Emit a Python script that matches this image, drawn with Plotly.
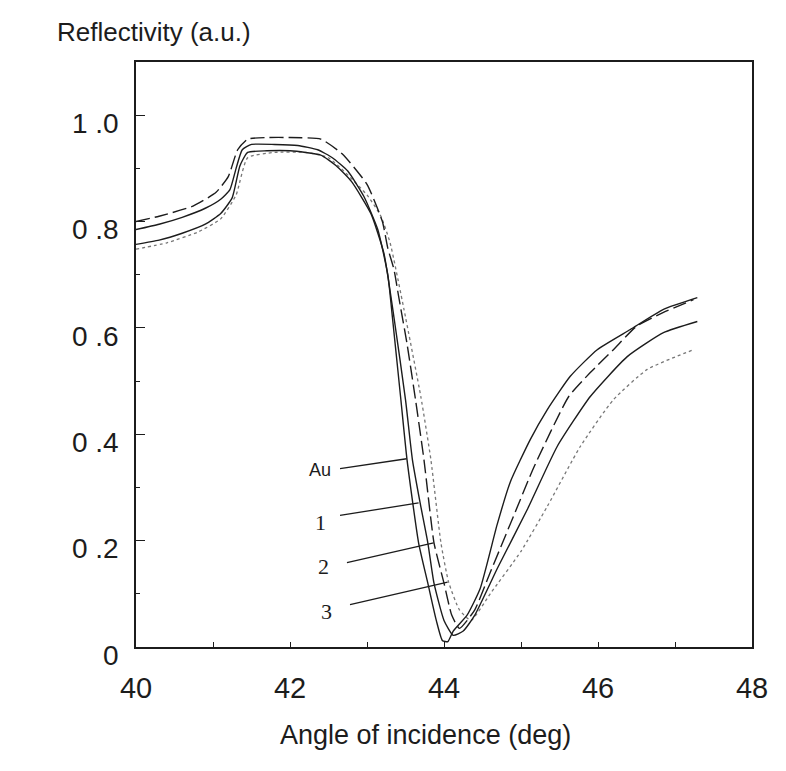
import plotly.graph_objects as go

# ---- data ----
au_x = [40.0, 40.3, 40.6, 40.9, 41.1, 41.22, 41.3, 41.38, 41.5, 41.8, 42.1, 42.36, 42.55, 42.75,
        42.96, 43.14, 43.27, 43.33, 43.44, 43.52, 43.67, 43.79, 43.9, 43.98, 44.05, 44.12, 44.3,
        44.47, 44.69, 44.86, 45.12, 45.34, 45.64, 45.99, 46.42, 46.85, 47.29]
au_y = [0.785, 0.795, 0.808, 0.825, 0.842, 0.86, 0.90, 0.935, 0.945, 0.945, 0.943, 0.935, 0.92,
        0.895, 0.847, 0.785, 0.70, 0.62, 0.465, 0.352, 0.196, 0.12, 0.05, 0.012, 0.01, 0.03, 0.06,
        0.11, 0.23, 0.31, 0.39, 0.446, 0.509, 0.559, 0.597, 0.635, 0.657]

s1_x = [40.0, 40.3, 40.6, 40.9, 41.1, 41.25, 41.35, 41.45, 41.7, 42.0, 42.4, 42.6, 42.8, 43.05,
        43.22, 43.35, 43.5, 43.59, 43.69, 43.79, 43.87, 44.0, 44.12, 44.25, 44.4, 44.7, 45.08,
        45.47, 45.9, 46.38, 46.85, 47.29]
s1_y = [0.757, 0.765, 0.778, 0.795, 0.815, 0.845, 0.905, 0.93, 0.933, 0.933, 0.925, 0.905, 0.875,
        0.815, 0.74, 0.62, 0.465, 0.352, 0.271, 0.196, 0.12, 0.05, 0.022, 0.03, 0.06, 0.15, 0.258,
        0.377, 0.471, 0.546, 0.591, 0.612]

s2_x = [40.0, 40.3, 40.74, 41.04, 41.2, 41.32, 41.45, 41.7, 42.0, 42.4, 42.68, 43.0, 43.2, 43.27,
        43.35, 43.41, 43.52, 43.63, 43.74, 43.87, 44.0, 44.1, 44.2, 44.4, 44.6, 44.9, 45.17, 45.62,
        45.9, 46.2, 46.5, 46.85, 47.24]
s2_y = [0.80, 0.81, 0.829, 0.855, 0.885, 0.935, 0.955, 0.958, 0.958, 0.955, 0.927, 0.87, 0.80,
        0.75, 0.71, 0.66, 0.57, 0.465, 0.352, 0.196, 0.12, 0.06, 0.035, 0.07, 0.14, 0.245, 0.339,
        0.471, 0.516, 0.559, 0.603, 0.629, 0.653]

s3_x = [40.0, 40.4, 40.8, 41.1, 41.3, 41.45, 41.8, 42.2, 42.5, 43.0, 43.18, 43.3, 43.48, 43.7,
        43.83, 43.96, 44.06, 44.2, 44.35, 44.6, 45.0, 45.34, 45.77, 46.2, 46.64, 47.24]
s3_y = [0.748, 0.76, 0.78, 0.805, 0.85, 0.92, 0.93, 0.93, 0.92, 0.85, 0.81, 0.76, 0.635, 0.47,
        0.352, 0.196, 0.122, 0.07, 0.05, 0.1, 0.18, 0.264, 0.377, 0.465, 0.522, 0.559]

x_tickvals = [40, 41, 42, 43, 44, 45, 46, 47, 48]
x_ticktext = ["40", "", "42", "", "44", "", "46", "", "48"]
y_tickvals = [0, 0.2, 0.4, 0.6, 0.8, 1.0]
y_ticktext = ["0", "0 .2", "0 .4", "0 .6", "0 .8", "1 .0"]

label_names = ["Au", "1", "2", "3"]
label_x = [42.39, 42.40, 42.44, 42.48]
label_y = [0.333, 0.234, 0.151, 0.066]
ptr_start_x = [42.63, 42.63, 42.72, 42.76]
ptr_start_y = [0.335, 0.247, 0.158, 0.079]
ptr_end_x = [43.515, 43.67, 43.865, 44.047]
ptr_end_y = [0.354, 0.271, 0.196, 0.122]

# ---- figure ----
fig = go.Figure()
ink = "#1c1c1c"
fig.add_trace(go.Scatter(x=s3_x, y=s3_y, mode="lines",
                         line=dict(color="#777777", width=1.3, dash="dot", shape="spline", smoothing=0.5)))
fig.add_trace(go.Scatter(x=s2_x, y=s2_y, mode="lines",
                         line=dict(color=ink, width=1.4, dash="14px,5px", shape="spline", smoothing=0.5)))
fig.add_trace(go.Scatter(x=s1_x, y=s1_y, mode="lines",
                         line=dict(color=ink, width=1.4, shape="spline", smoothing=0.5)))
fig.add_trace(go.Scatter(x=au_x, y=au_y, mode="lines",
                         line=dict(color=ink, width=1.4, shape="spline", smoothing=0.5)))

annotations = []
for i, name in enumerate(label_names):
    annotations.append(dict(x=ptr_end_x[i], y=ptr_end_y[i], xref="x", yref="y",
                            ax=ptr_start_x[i], ay=ptr_start_y[i], axref="x", ayref="y",
                            text="", showarrow=True, arrowhead=0, arrowwidth=1.3, arrowcolor=ink))
    fnt = dict(family="Liberation Sans, Arial, sans-serif", size=18, color=ink) if name == "Au" else \
        dict(family="Liberation Serif, Times New Roman, serif", size=22, color=ink)
    annotations.append(dict(x=label_x[i], y=label_y[i], xref="x", yref="y", text=name,
                            showarrow=False, font=fnt))

annotations.append(dict(x=154 / 786, y=1 - 32 / 771, xref="paper", yref="paper",
                        xanchor="center", yanchor="middle", text="Reflectivity (a.u.)",
                        showarrow=False,
                        font=dict(family="Liberation Sans, Arial, sans-serif", size=26, color=ink)))
annotations.append(dict(x=425 / 786, y=1 - 735 / 771, xref="paper", yref="paper",
                        xanchor="center", yanchor="middle", text="Angle of incidence (deg)",
                        showarrow=False,
                        font=dict(family="Liberation Sans, Arial, sans-serif", size=27, color=ink)))

# convert paper annotations: paper coords relative to plot area
L, R, T, B = 136, 34, 62, 124
W, H = 786 - L - R, 771 - T - B
for a in annotations:
    if a.get("xref") == "paper":
        px = a["x"] * 786
        py = (1 - a["y"]) * 771
        a["x"] = (px - L) / W
        a["y"] = 1 - (py - T) / H

fig.update_layout(
    width=786, height=771,
    margin=dict(l=L, r=R, t=T, b=B),
    paper_bgcolor="white", plot_bgcolor="white",
    showlegend=False,
    annotations=annotations,
    xaxis=dict(range=[40, 48], tickvals=x_tickvals, ticktext=x_ticktext,
               ticks="inside", ticklen=5, tickwidth=1.2, tickcolor=ink,
               showline=True, linecolor=ink, linewidth=1.5, mirror=True,
               showgrid=False, zeroline=False, ticklabelstandoff=14,
               tickfont=dict(family="Liberation Sans, Arial, sans-serif", size=29, color=ink)),
    yaxis=dict(range=[0, 1.10], tickvals=y_tickvals, ticktext=y_ticktext,
               ticks="inside", ticklen=9, tickwidth=1.2, tickcolor=ink,
               minor=dict(tickvals=[0.1, 0.3, 0.5, 0.7, 0.9], ticks="inside", ticklen=4,
                          tickcolor=ink, tickwidth=1),
               showline=True, linecolor=ink, linewidth=1.5, mirror=True,
               showgrid=False, zeroline=False, ticklabelstandoff=10, ticklabelshift=8,
               tickfont=dict(family="Liberation Sans, Arial, sans-serif", size=28, color=ink)),
)

fig.write_html("out.html")
